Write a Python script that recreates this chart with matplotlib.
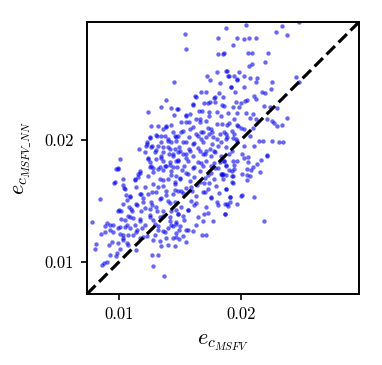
import numpy as np
import matplotlib
matplotlib.use('Agg')
import matplotlib.pyplot as plt

plt.rcParams['font.family'] = 'serif'
plt.rcParams['font.serif'] = ['cmr10']
plt.rcParams['mathtext.fontset'] = 'cm'
plt.rcParams['axes.formatter.use_mathtext'] = True

# data (e_c MSFV, e_c MSFV_NN) ------------------------------------------------
pts_upper = [(0.01540, 0.02874), (0.01549, 0.02748), (0.01812, 0.02839), (0.01812, 0.02707), (0.01454, 0.02475),
             (0.01725, 0.02530), (0.01750, 0.02494), (0.01383, 0.02328), (0.01342, 0.02270), (0.01242, 0.02234),
             (0.01424, 0.02262), (0.01478, 0.02257), (0.01451, 0.02210), (0.01263, 0.02115), (0.01324, 0.02120),
             (0.01169, 0.01929), (0.01255, 0.02025), (0.01310, 0.02038), (0.01228, 0.01970), (0.01214, 0.01902),
             (0.01391, 0.02107), (0.01432, 0.02125), (0.01554, 0.02202), (0.01609, 0.02298), (0.01676, 0.02398),
             (0.01717, 0.02393), (0.01636, 0.02352), (0.01785, 0.02352), (0.01856, 0.02710), (0.01801, 0.02562),
             (0.01885, 0.02568), (0.01899, 0.02524), (0.01972, 0.02502), (0.01828, 0.02467), (0.01918, 0.02439),
             (0.01823, 0.02387), (0.01953, 0.02398)]

pts_upper_right = [(0.02043, 0.02945), (0.01880, 0.02920), (0.02336, 0.02934), (0.02287, 0.02890), (0.02377, 0.02866),
                   (0.02477, 0.02972), (0.01970, 0.02838), (0.02024, 0.02830), (0.02070, 0.02836), (0.02124, 0.02838),
                   (0.01940, 0.02784), (0.01861, 0.02713), (0.02062, 0.02715), (0.02092, 0.02715), (0.02220, 0.02715),
                   (0.02200, 0.02639), (0.02089, 0.02625), (0.02070, 0.02611), (0.01880, 0.02570), (0.01983, 0.02557),
                   (0.01948, 0.02530), (0.01901, 0.02524), (0.01970, 0.02497), (0.02024, 0.02524), (0.02078, 0.02508),
                   (0.02132, 0.02508), (0.02124, 0.02480), (0.02260, 0.02475), (0.02450, 0.02516), (0.02477, 0.02475),
                   (0.01920, 0.02434), (0.02024, 0.02439), (0.02247, 0.02420), (0.02170, 0.02398), (0.02198, 0.02387),
                   (0.02105, 0.02366), (0.01853, 0.02357), (0.02124, 0.02338), (0.01961, 0.02316), (0.02035, 0.02319),
                   (0.02051, 0.02330), (0.01866, 0.02284), (0.01940, 0.02270), (0.01988, 0.02270), (0.02192, 0.02278),
                   (0.02241, 0.02270), (0.02295, 0.02262), (0.01893, 0.02221), (0.02043, 0.02224), (0.02097, 0.02215),
                   (0.01948, 0.02174), (0.02078, 0.02180), (0.02124, 0.02174), (0.02219, 0.02174), (0.02260, 0.02161),
                   (0.02377, 0.02180), (0.01888, 0.02125), (0.01975, 0.02120), (0.02274, 0.02142), (0.02301, 0.02114),
                   (0.02336, 0.02125), (0.02002, 0.02098), (0.02024, 0.02092), (0.02097, 0.02098), (0.01880, 0.02051),
                   (0.01948, 0.02051), (0.02078, 0.02038), (0.01880, 0.02010), (0.01934, 0.02016), (0.01969, 0.01997),
                   (0.02151, 0.01997), (0.02179, 0.01997), (0.02260, 0.01997), (0.02314, 0.01983), (0.02350, 0.01983),
                   (0.02029, 0.01956), (0.02105, 0.01950), (0.02219, 0.01880)]

pts_right = [(0.01861, 0.01831), (0.01940, 0.01831), (0.02029, 0.01853), (0.02056, 0.01866), (0.02062, 0.01820),
             (0.02165, 0.01834), (0.02219, 0.01869), (0.02130, 0.01806), (0.01880, 0.01798), (0.01948, 0.01798),
             (0.02100, 0.01784), (0.02048, 0.01765), (0.02084, 0.01757), (0.01901, 0.01752), (0.01929, 0.01749),
             (0.02157, 0.01743), (0.01853, 0.01722), (0.01880, 0.01711), (0.01940, 0.01708), (0.02007, 0.01722),
             (0.02048, 0.01711), (0.02075, 0.01705), (0.02051, 0.01675), (0.01934, 0.01650), (0.01880, 0.01596),
             (0.01915, 0.01538), (0.02007, 0.01547), (0.02108, 0.01533), (0.01874, 0.01478), (0.01912, 0.01492),
             (0.01899, 0.01462), (0.01970, 0.01478), (0.01872, 0.01396), (0.02192, 0.01339), (0.01845, 0.01725),
             (0.01850, 0.01718)]

pts_lower = [(0.01011, 0.01847), (0.00992, 0.01765), (0.00848, 0.01517), (0.00962, 0.01650), (0.00780, 0.01328),
             (0.00804, 0.01107), (0.00815, 0.01148), (0.00861, 0.00978), (0.00875, 0.00992), (0.00902, 0.00997),
             (0.00929, 0.01055), (0.00916, 0.01142), (0.00984, 0.01074), (0.01011, 0.01110), (0.00978, 0.01047),
             (0.00853, 0.01230), (0.00888, 0.01246), (0.00929, 0.01265), (0.00951, 0.01246), (0.01011, 0.01284),
             (0.01032, 0.01224), (0.01032, 0.01197), (0.01065, 0.01156), (0.01079, 0.01142), (0.00943, 0.01161),
             (0.00997, 0.01156), (0.01141, 0.01101), (0.01277, 0.00965), (0.01318, 0.01060), (0.01372, 0.00883),
             (0.01269, 0.01060), (0.01350, 0.01129), (0.01405, 0.01142), (0.01459, 0.01129), (0.01554, 0.01164),
             (0.01684, 0.01219), (0.01712, 0.01219), (0.00888, 0.01293), (0.00907, 0.01320), (0.00929, 0.01306),
             (0.00997, 0.01279), (0.01005, 0.01429), (0.01016, 0.01416), (0.01038, 0.01634), (0.01046, 0.01607),
             (0.01060, 0.01552), (0.01070, 0.01511), (0.01092, 0.01538), (0.01084, 0.01451), (0.01174, 0.01730),
             (0.01160, 0.01702), (0.01133, 0.01675), (0.01141, 0.01620), (0.01242, 0.01853), (0.01255, 0.01825),
             (0.01282, 0.01771), (0.01201, 0.01525), (0.01179, 0.01558), (0.01255, 0.01388), (0.01282, 0.01347),
             (0.01323, 0.01293), (0.01364, 0.01252), (0.01296, 0.01224), (0.01228, 0.01211), (0.01174, 0.01197),
             (0.01119, 0.01224), (0.01146, 0.01265), (0.01092, 0.01279), (0.01065, 0.01306), (0.01051, 0.01347),
             (0.01119, 0.01361), (0.01174, 0.01334), (0.01187, 0.01279), (0.01079, 0.01375), (0.01106, 0.01416),
             (0.01146, 0.01470), (0.01214, 0.01443), (0.01269, 0.01470), (0.01310, 0.01416), (0.01364, 0.01375),
             (0.01418, 0.01334), (0.01445, 0.01293), (0.01405, 0.01279), (0.01500, 0.01293), (0.01554, 0.01265),
             (0.01473, 0.01238), (0.01391, 0.01197), (0.01337, 0.01170), (0.01445, 0.01197), (0.01527, 0.01211),
             (0.01608, 0.01252), (0.01635, 0.01306), (0.01690, 0.01334), (0.01731, 0.01402), (0.01771, 0.01334),
             (0.01812, 0.01470), (0.01820, 0.01566), (0.01758, 0.01525), (0.01703, 0.01579), (0.01635, 0.01484),
             (0.01568, 0.01429), (0.01527, 0.01375), (0.01473, 0.01429), (0.01418, 0.01484), (0.01391, 0.01552),
             (0.01459, 0.01593), (0.01527, 0.01566), (0.01595, 0.01620), (0.01663, 0.01661), (0.01731, 0.01716),
             (0.01785, 0.01771), (0.01826, 0.01825), (0.01676, 0.01812), (0.01608, 0.01771), (0.01554, 0.01730),
             (0.01500, 0.01689), (0.01432, 0.01716), (0.01364, 0.01675), (0.01323, 0.01620), (0.01269, 0.01579),
             (0.01350, 0.01525), (0.01418, 0.01798), (0.01486, 0.01839), (0.01350, 0.01853), (0.01554, 0.01853),
             (0.01364, 0.01757)]

pts_mid_left = [(0.01389, 0.02114), (0.01362, 0.02092), (0.01307, 0.02043), (0.01348, 0.02032), (0.01375, 0.02037),
                (0.01443, 0.02065), (0.01457, 0.02037), (0.01253, 0.02016), (0.01231, 0.01983), (0.01402, 0.01997),
                (0.01430, 0.01983), (0.01470, 0.01997), (0.01267, 0.01942), (0.01226, 0.01956), (0.01307, 0.01923),
                (0.01362, 0.01942), (0.01402, 0.01942), (0.01457, 0.01928), (0.01484, 0.01901), (0.01348, 0.01874),
                (0.01410, 0.01887), (0.01443, 0.01874), (0.01239, 0.01846), (0.01307, 0.01846), (0.01362, 0.01833),
                (0.01416, 0.01819), (0.01470, 0.01833), (0.01267, 0.01792), (0.01335, 0.01778), (0.01389, 0.01786),
                (0.01443, 0.01778), (0.00995, 0.01770)]

pts_mid = [(0.01624, 0.02360), (0.01782, 0.02343), (0.01695, 0.02305), (0.01728, 0.02305), (0.01750, 0.02311),
           (0.01787, 0.02311), (0.01850, 0.02289), (0.01999, 0.02305), (0.01605, 0.02289), (0.01660, 0.02242),
           (0.01679, 0.02242), (0.01741, 0.02234), (0.01809, 0.02234), (0.01551, 0.02207), (0.01586, 0.02215),
           (0.01483, 0.02256), (0.01633, 0.02174), (0.01741, 0.02201), (0.01836, 0.02201), (0.01972, 0.02223),
           (0.01510, 0.02147), (0.01578, 0.02147), (0.01668, 0.02147), (0.01809, 0.02133), (0.01850, 0.02133),
           (0.01904, 0.02139), (0.01972, 0.02125), (0.01524, 0.02078), (0.01605, 0.02106), (0.01673, 0.02065),
           (0.01728, 0.02098), (0.01768, 0.02065), (0.01864, 0.02070), (0.01931, 0.02078), (0.01483, 0.02037),
           (0.01578, 0.02024), (0.01646, 0.02037), (0.01714, 0.02024), (0.01741, 0.02051), (0.01809, 0.02010),
           (0.01891, 0.02024), (0.01959, 0.02010), (0.01551, 0.01983), (0.01619, 0.01977), (0.01687, 0.01983),
           (0.01768, 0.01969), (0.01836, 0.01983), (0.01497, 0.01942), (0.01578, 0.01928), (0.01646, 0.01934),
           (0.01714, 0.01915), (0.01782, 0.01915), (0.01877, 0.01942), (0.01931, 0.01915), (0.01524, 0.01887),
           (0.01605, 0.01874), (0.01687, 0.01887), (0.01755, 0.01874), (0.01836, 0.01874), (0.01904, 0.01887),
           (0.01483, 0.01833), (0.01565, 0.01833), (0.01646, 0.01819), (0.01714, 0.01833), (0.01782, 0.01813),
           (0.01864, 0.01833), (0.01972, 0.01833), (0.01537, 0.01786), (0.01619, 0.01778), (0.01687, 0.01792),
           (0.01755, 0.01786), (0.02013, 0.01887),
           (0.01554, 0.02147), (0.01663, 0.02174), (0.01717, 0.02161), (0.01758, 0.02092), (0.01690, 0.02065),
           (0.01635, 0.02051), (0.01581, 0.02092), (0.01513, 0.02065), (0.01473, 0.02024), (0.01405, 0.02010),
           (0.01350, 0.01983), (0.01527, 0.01983), (0.01608, 0.01969), (0.01676, 0.02010), (0.01771, 0.02024),
           (0.01826, 0.02051), (0.01812, 0.01956), (0.01744, 0.01928), (0.01663, 0.01915), (0.01581, 0.01915),
           (0.01500, 0.01915), (0.01418, 0.01928), (0.01364, 0.01901), (0.01296, 0.01901), (0.01445, 0.01887),
           (0.01554, 0.01887), (0.01703, 0.01887), (0.01785, 0.01901), (0.01318, 0.01956), (0.01269, 0.01956)]

pts_core = [(0.01877, 0.01792), (0.01945, 0.01765), (0.01836, 0.01724), (0.01931, 0.01710), (0.01782, 0.01683),
            (0.01796, 0.01628), (0.01877, 0.01601), (0.01931, 0.01656), (0.01728, 0.01601), (0.01687, 0.01574),
            (0.01755, 0.01533), (0.01809, 0.01492), (0.01885, 0.01478), (0.01912, 0.01533), (0.01999, 0.01546),
            (0.01869, 0.01396), (0.01633, 0.01546), (0.01592, 0.01505), (0.01619, 0.01465), (0.01714, 0.01451),
            (0.01701, 0.01396), (0.01646, 0.01369), (0.01538, 0.01342), (0.01470, 0.01314), (0.01497, 0.01260),
            (0.01570, 0.01260), (0.01497, 0.01191), (0.01510, 0.01451), (0.01565, 0.01424), (0.01483, 0.01396),
            (0.00981, 0.01765), (0.01036, 0.01683), (0.00968, 0.01656), (0.01131, 0.01683), (0.01158, 0.01724),
            (0.01171, 0.01751), (0.01253, 0.01779), (0.01239, 0.01710), (0.01280, 0.01738), (0.01321, 0.01765),
            (0.01375, 0.01792), (0.01430, 0.01751), (0.01470, 0.01710), (0.01335, 0.01683), (0.01402, 0.01683),
            (0.01457, 0.01642), (0.01362, 0.01628), (0.01280, 0.01642), (0.01212, 0.01615), (0.01049, 0.01601),
            (0.01090, 0.01546), (0.01171, 0.01560), (0.01239, 0.01560), (0.01307, 0.01574), (0.01389, 0.01587),
            (0.01443, 0.01560), (0.01484, 0.01587), (0.01335, 0.01519), (0.01402, 0.01505), (0.01457, 0.01492),
            (0.01267, 0.01492), (0.01199, 0.01492), (0.01144, 0.01478), (0.01036, 0.01478), (0.00995, 0.01423),
            (0.01104, 0.01437), (0.01185, 0.01423), (0.01253, 0.01437), (0.01307, 0.01451), (0.01362, 0.01423),
            (0.01430, 0.01423), (0.01484, 0.01396), (0.01416, 0.01369), (0.01335, 0.01369), (0.01253, 0.01369),
            (0.01171, 0.01355), (0.01090, 0.01369), (0.01022, 0.01355), (0.00954, 0.01301), (0.01049, 0.01287),
            (0.01131, 0.01301), (0.01212, 0.01301), (0.01294, 0.01314), (0.01430, 0.01301), (0.01470, 0.01328),
            (0.01009, 0.01232), (0.01076, 0.01219), (0.01144, 0.01246), (0.01199, 0.01205), (0.01321, 0.01260),
            (0.01375, 0.01246), (0.01036, 0.01178), (0.01280, 0.01178), (0.01470, 0.01205),
            (0.01475, 0.01780), (0.01520, 0.01755), (0.01570, 0.01725), (0.01620, 0.01700), (0.01665, 0.01745),
            (0.01710, 0.01690), (0.01755, 0.01730), (0.01585, 0.01665), (0.01640, 0.01630), (0.01695, 0.01650),
            (0.01505, 0.01685), (0.01555, 0.01610), (0.01600, 0.01585), (0.01460, 0.01660), (0.01510, 0.01580),
            (0.01810, 0.01770), (0.01855, 0.01680), (0.01740, 0.01645)]

axis_lims = (0.0074, 0.0297)
tick_vals = [0.01, 0.02]
tick_labels = ['0.01', '0.02']

pts = np.array(pts_upper + pts_upper_right + pts_right + pts_lower + pts_mid_left + pts_mid + pts_core)
e_msfv = pts[:, 0]
e_msfv_nn = pts[:, 1]

# plot ------------------------------------------------------------------------
fig = plt.figure(figsize=(3.82, 3.65), dpi=100)
ax = fig.add_axes([0.228, 0.195, 0.712, 0.745])

ax.scatter(e_msfv, e_msfv_nn, s=10, color='blue', alpha=0.6, linewidths=0)
ax.plot(axis_lims, axis_lims, 'k--', linewidth=2.3)

ax.set_xlim(axis_lims)
ax.set_ylim(axis_lims)
ax.set_xticks(tick_vals)
ax.set_xticklabels(tick_labels)
ax.set_yticks(tick_vals)
ax.set_yticklabels(tick_labels)
ax.tick_params(labelsize=12, length=4.5, width=1.2, pad=5)
for sp in ax.spines.values():
    sp.set_linewidth(1.4)

ax.set_xlabel(r'$e_{c_{MSFV}}$', fontsize=16, labelpad=7)
ax.set_ylabel(r'$e_{c_{MSFV\_NN}}$', fontsize=16, labelpad=8)

fig.savefig('out.png', dpi=100)
